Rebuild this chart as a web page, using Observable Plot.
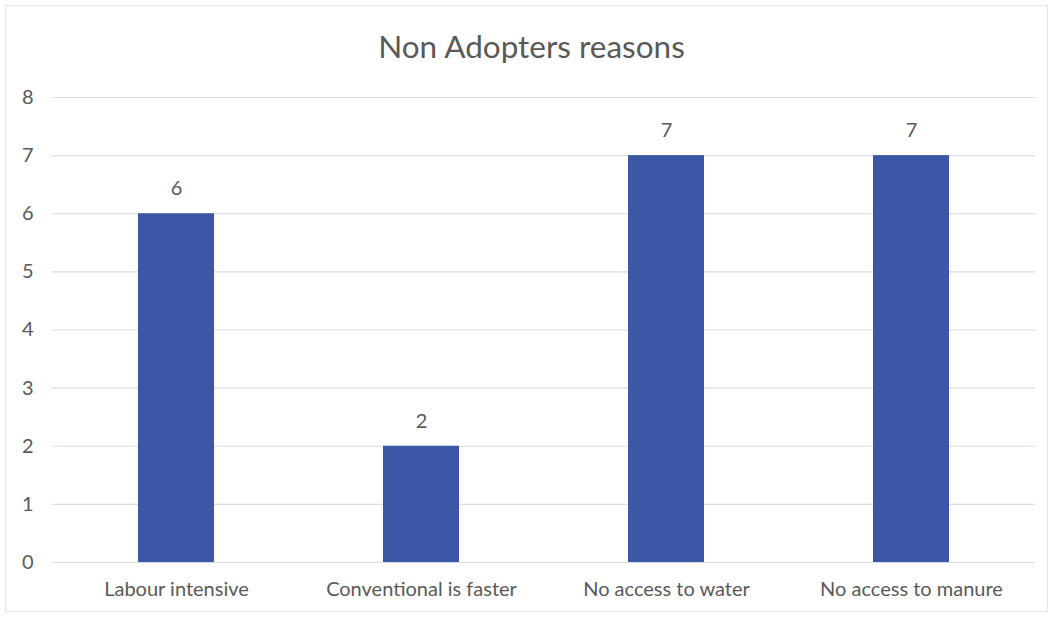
<!DOCTYPE html>
<html>
<head>
<meta charset="utf-8">
<script src="https://cdn.jsdelivr.net/npm/d3@7"></script>
<script src="https://cdn.jsdelivr.net/npm/@observablehq/plot@0.6"></script>
<style>
  html, body { margin: 0; padding: 0; background: #fff; }
  #chart {
    position: relative;
    width: 1043px; height: 607px;
    margin: 5px 0 0 5px;
    border: 1px solid #e4e4e4;
    box-sizing: border-box;
    font-family: Lato, "Open Sans", sans-serif;
    color: #595959;
  }
  #title {
    position: absolute; left: -2px; width: 1055px; top: 22px;
    text-align: center; font-size: 31.5px; line-height: 36px; color: #595959;
  }
  #plot { position: absolute; left: -6px; top: 58px; width: 1055px; }
  #plot svg { max-width: none !important; }
</style>
</head>
<body>
<div id="chart">
  <div id="title">Non Adopters reasons</div>
  <div id="plot"></div>
</div>
<script>
const reasons = ["Labour intensive", "Conventional is faster", "No access to water", "No access to manure"];
const counts = [6, 2, 7, 7];
const yTicks = [0, 1, 2, 3, 4, 5, 6, 7, 8];

const data = reasons.map((r, i) => ({reason: r, count: counts[i]}));

const chart = Plot.plot({
  width: 1055,
  height: 547,
  marginLeft: 52,
  marginRight: 20,
  marginTop: 33,
  marginBottom: 49,
  style: {fontFamily: "Lato, 'Open Sans', sans-serif", fontSize: "20px", color: "#595959", background: "transparent"},
  x: {domain: reasons, paddingInner: 0.688, paddingOuter: 0.344, label: null},
  y: {domain: [0, 8], ticks: yTicks, label: null},
  marks: [
    Plot.ruleY(yTicks, {stroke: "#d9dbe6", strokeWidth: 1.2, strokeOpacity: 1}),
    Plot.barY(data, {x: "reason", y: "count", fill: "#3c57a5"}),
    Plot.text(data, {x: "reason", y: "count", text: d => String(d.count), dy: -25, fontSize: 20, fill: "#595959"}),
    Plot.axisY({ticks: yTicks, tickSize: 0, tickPadding: 19, fontSize: 20, label: null, fill: "#595959"}),
    Plot.axisX({tickSize: 0, tickPadding: 19, fontSize: 20, label: null, fill: "#595959"})
  ]
});
document.getElementById("plot").appendChild(chart);
</script>
</body>
</html>
